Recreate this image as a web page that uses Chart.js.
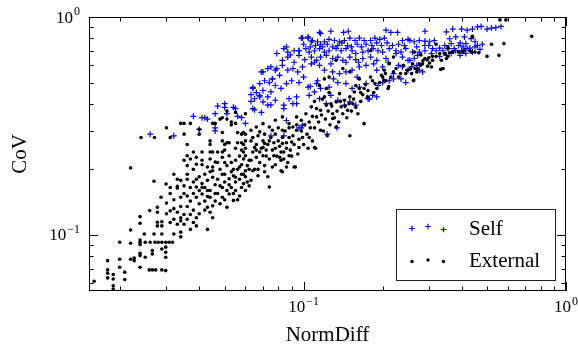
<!DOCTYPE html>
<html>
<head>
<meta charset="utf-8">
<script src="https://cdn.jsdelivr.net/npm/chart.js@4.4.1/dist/chart.umd.min.js"></script>
<style>
  html, body { margin: 0; padding: 0; background: #fff; }
  #wrap { width: 578px; height: 349px; }
</style>
</head>
<body>
<div id="wrap"><canvas id="c" width="578" height="349"></canvas></div>
<script>
// [NormDiff, CoV]
const selfPoints = [
  [0.026,0.29],[0.032,0.285],[0.038,0.35],[0.040,0.305],[0.041,0.345],[0.042,0.345],[0.043,0.34],[0.046,0.31],
  [0.046,0.30],[0.046,0.36],[0.047,0.39],[0.050,0.40],[0.050,0.385],[0.051,0.36],[0.054,0.385],[0.055,0.38],
  [0.058,0.345],[0.060,0.325],[0.063,0.44],
  [0.098,0.31],[0.064,0.47],[0.070,0.46],[0.076,0.52],[0.069,0.56],[0.079,0.58],[0.086,0.73],[0.079,0.68],
  [0.089,0.67],[0.096,0.70],[0.099,0.80],[0.104,0.81],[0.116,0.84],[0.066,0.45],[0.068,0.43],[0.065,0.375],
  [0.063,0.41],[0.075,0.395],[0.084,0.38],[0.091,0.40],[0.094,0.43],[0.106,0.48],[0.113,0.51],[0.086,0.335],[0.056,0.35],
  [0.115,0.85],[0.127,0.86],[0.142,0.85],[0.148,0.86],[0.098,0.80],[0.104,0.80],[0.107,0.77],[0.108,0.78],
  [0.113,0.77],[0.116,0.75],[0.120,0.77],[0.125,0.79],[0.131,0.78],[0.137,0.77],[0.143,0.78],[0.150,0.80],
  [0.157,0.78],[0.163,0.80],[0.170,0.78],[0.180,0.78],[0.187,0.80],[0.195,0.79],[0.203,0.80],[0.206,0.87],
  [0.215,0.85],[0.228,0.85],[0.238,0.78],[0.250,0.79],
  [0.084,0.716],[0.087,0.69],[0.092,0.70],[0.096,0.70],[0.102,0.716],[0.105,0.69],[0.110,0.70],[0.115,0.716],
  [0.120,0.69],[0.125,0.70],[0.133,0.716],[0.139,0.70],[0.145,0.716],[0.153,0.70],[0.158,0.68],[0.168,0.69],
  [0.176,0.70],[0.184,0.716],[0.192,0.70],[0.200,0.69],[0.212,0.716],[0.225,0.70],[0.235,0.69],[0.245,0.716],
  [0.100,0.75],[0.106,0.73],[0.111,0.74],[0.118,0.73],[0.123,0.75],[0.129,0.73],[0.135,0.74],[0.140,0.76],
  [0.147,0.74],[0.152,0.73],[0.160,0.75],[0.166,0.73],[0.173,0.75],[0.182,0.74],[0.190,0.76],[0.198,0.74],
  [0.208,0.76],[0.218,0.74],[0.230,0.75],[0.242,0.74],
  [0.083,0.633],[0.087,0.655],[0.096,0.667],[0.101,0.637],[0.107,0.655],[0.112,0.633],[0.116,0.655],[0.122,0.667],
  [0.129,0.645],[0.135,0.655],[0.141,0.633],[0.150,0.655],[0.158,0.637],[0.168,0.645],[0.180,0.655],[0.190,0.633],
  [0.206,0.645],[0.225,0.68],[0.238,0.655],[0.250,0.633],
  [0.110,0.62],[0.127,0.61],[0.145,0.62],[0.162,0.62],[0.185,0.61],[0.210,0.62],[0.230,0.60],[0.092,0.62],
  [0.070,0.56],[0.073,0.58],[0.075,0.59],[0.078,0.57],[0.081,0.54],[0.083,0.60],[0.087,0.57],[0.091,0.58],
  [0.095,0.56],[0.099,0.59],[0.107,0.61],[0.115,0.60],[0.120,0.57],[0.129,0.56],[0.137,0.55],[0.145,0.56],
  [0.153,0.57],[0.163,0.59],[0.173,0.60],[0.190,0.57],[0.200,0.59],[0.220,0.55],[0.238,0.59],[0.250,0.57],
  [0.100,0.53],[0.130,0.52],[0.160,0.53],[0.220,0.52],
  [0.064,0.475],[0.068,0.495],[0.071,0.51],[0.074,0.50],[0.076,0.52],[0.078,0.485],[0.082,0.47],[0.086,0.495],
  [0.090,0.51],[0.096,0.50],[0.104,0.477],[0.112,0.495],[0.116,0.47],[0.125,0.477],[0.135,0.50],[0.145,0.495],
  [0.153,0.47],[0.163,0.477],[0.173,0.495],[0.192,0.485],[0.200,0.50],[0.212,0.51],[0.235,0.52],[0.245,0.50],
  [0.065,0.422],[0.068,0.437],[0.070,0.408],[0.073,0.43],[0.075,0.453],[0.078,0.415],[0.084,0.394],[0.088,0.422],
  [0.094,0.40],[0.105,0.437],[0.110,0.453],[0.115,0.422],[0.122,0.40],[0.127,0.437],[0.135,0.415],[0.143,0.394],
  [0.150,0.408],[0.158,0.394],[0.176,0.422],[0.190,0.43],
  [0.064,0.38],[0.069,0.365],[0.073,0.394],[0.096,0.31],[0.099,0.318],[0.075,0.285],[0.084,0.285],[0.134,0.31],
  [0.123,0.29],[0.178,0.42],[0.183,0.437],
  [0.42,0.87],[0.44,0.88],[0.46,0.90],[0.475,0.905],[0.50,0.88],[0.52,0.89],[0.54,0.893],[0.565,0.905],
  [0.37,0.88],[0.40,0.88],[0.35,0.855],[0.29,0.86],
  [0.254,0.78],[0.264,0.77],[0.276,0.78],[0.29,0.775],[0.302,0.77],[0.315,0.78],[0.27,0.73],[0.29,0.74],
  [0.31,0.716],[0.26,0.69],[0.276,0.69],[0.29,0.70],[0.307,0.68],[0.254,0.633],[0.264,0.645],[0.258,0.59],
  [0.27,0.60],[0.276,0.57],[0.284,0.56],[0.272,0.667],
  [0.36,0.795],[0.38,0.81],[0.41,0.81],[0.435,0.795],[0.345,0.74],[0.365,0.755],[0.395,0.76],[0.415,0.755],
  [0.45,0.77],[0.34,0.70],[0.355,0.716],[0.375,0.716],[0.40,0.70],[0.42,0.716],[0.45,0.73],[0.35,0.667],
  [0.365,0.68],[0.395,0.667],[0.415,0.68],[0.44,0.69],[0.405,0.73],
  [0.32,0.70],[0.33,0.72],[0.30,0.74],[0.38,0.70],[0.43,0.72],[0.46,0.74],[0.47,0.71],[0.48,0.75],
  [0.33,0.66],[0.39,0.74]
];

const externalPoints = [
  [0.0159,0.0613],[0.0188,0.0585],[0.0188,0.0565],[0.0179,0.0762],[0.0179,0.0691],[0.0179,0.0667],[0.0179,0.0635],
  [0.0188,0.0658],[0.0188,0.0628],[0.0199,0.0926],[0.0199,0.0774],[0.0199,0.0711],[0.0208,0.0675],[0.0208,0.0624],
  [0.0219,0.203],[0.0219,0.1054],[0.0219,0.0916],[0.0219,0.0774],[0.0226,0.0784],[0.0226,0.0762],[0.0238,0.1213],
  [0.0238,0.1132],[0.0238,0.0948],[0.0238,0.0926],[0.0238,0.0903],[0.0238,0.0824],[0.0238,0.0804],[0.0238,0.0711],
  [0.0247,0.101],[0.0249,0.0926],[0.026,0.0926],[0.0271,0.0926],[0.0249,0.079],[0.0258,0.0691],[0.0265,0.0691],
  [0.0273,0.0691],[0.0288,0.0691],[0.0259,0.1293],[0.0265,0.0847],[0.0265,0.0818],[0.0269,0.1763],[0.0269,0.101],
  [0.0277,0.134],[0.0277,0.127],[0.0277,0.1144],[0.0277,0.110],[0.0279,0.0926],[0.0286,0.149],[0.0288,0.115],
  [0.0288,0.110],[0.0288,0.101],[0.0288,0.0926],[0.0288,0.0862],[0.0299,0.1714],[0.0298,0.0926],[0.0298,0.0879],
  [0.0298,0.0833],[0.0298,0.079],[0.0298,0.0686],[0.0307,0.0926],[0.0316,0.0926],
  [0.033,0.167],[0.033,0.164],[0.031,0.155],[0.034,0.149],[0.034,0.178],[0.035,0.168],[0.036,0.18],[0.036,0.19],
  [0.035,0.22],[0.036,0.208],[0.038,0.20],[0.039,0.211],[0.037,0.223],
  [0.030,0.14],[0.031,0.165],[0.032,0.145],[0.033,0.18],[0.034,0.135],[0.035,0.155],[0.036,0.135],[0.037,0.165],
  [0.038,0.13],[0.038,0.155],[0.039,0.18],[0.040,0.125],[0.041,0.165],[0.042,0.13],[0.043,0.16],[0.045,0.12],
  [0.032,0.19],[0.030,0.125],
  [0.031,0.129],[0.032,0.132],[0.033,0.127],[0.034,0.12],[0.032,0.118],[0.031,0.114],[0.033,0.112],[0.034,0.116],
  [0.035,0.112],[0.036,0.118],[0.038,0.114],[0.039,0.11],[0.037,0.106],[0.034,0.103],[0.032,0.101],[0.034,0.098],
  [0.035,0.124],[0.037,0.124],[0.039,0.12],
  [0.036,0.151],[0.037,0.143],[0.039,0.149],[0.040,0.139],[0.042,0.143],[0.041,0.154],[0.043,0.134],[0.044,0.127],
  [0.045,0.136],[0.046,0.143],[0.044,0.149],[0.043,0.106],
  [0.039,0.166],[0.041,0.172],[0.043,0.178],[0.045,0.184],[0.048,0.168],[0.050,0.175],[0.052,0.181],[0.055,0.184],
  [0.058,0.19],[0.060,0.197],[0.059,0.172],[0.055,0.16],[0.052,0.154],[0.049,0.149],[0.048,0.139],[0.051,0.134],
  [0.054,0.144],[0.057,0.151],[0.060,0.16],[0.062,0.168],
  [0.040,0.16],[0.042,0.165],[0.044,0.16],[0.046,0.17],[0.047,0.155],[0.047,0.18],[0.049,0.165],[0.050,0.19],
  [0.051,0.16],[0.052,0.17],[0.053,0.195],[0.053,0.165],[0.055,0.175],[0.056,0.20],[0.056,0.145],[0.057,0.18],
  [0.058,0.21],[0.058,0.165],[0.060,0.185],[0.061,0.175],[0.062,0.20],[0.062,0.22],[0.045,0.205],[0.047,0.215],
  [0.042,0.19],[0.044,0.195],[0.040,0.185],[0.038,0.175],[0.041,0.21],[0.050,0.215],[0.053,0.215],[0.057,0.23],
  [0.046,0.155],[0.043,0.15],[0.050,0.145],[0.054,0.155],
  [0.036,0.231],[0.039,0.227],[0.041,0.22],[0.044,0.223],[0.046,0.216],[0.049,0.227],[0.052,0.231],[0.055,0.22],
  [0.059,0.223],[0.060,0.231],[0.043,0.205],[0.045,0.197],[0.048,0.20],[0.051,0.208],[0.054,0.20],[0.057,0.205],
  [0.061,0.208],[0.049,0.19],[0.054,0.187],[0.059,0.19],
  [0.063,0.22],[0.066,0.227],[0.070,0.231],[0.074,0.223],[0.077,0.231],[0.081,0.227],[0.084,0.223],[0.088,0.231],
  [0.064,0.197],[0.067,0.20],[0.071,0.208],[0.076,0.205],[0.082,0.197],[0.093,0.205],[0.073,0.185],[0.067,0.187],
  [0.063,0.178],[0.074,0.166],[0.083,0.195],[0.092,0.205],[0.082,0.22],
  [0.064,0.24],[0.066,0.26],[0.067,0.285],[0.069,0.25],[0.070,0.27],[0.071,0.29],[0.072,0.23],[0.073,0.26],
  [0.075,0.28],[0.076,0.245],[0.077,0.265],[0.078,0.29],[0.079,0.23],[0.080,0.31],[0.081,0.255],[0.083,0.28],
  [0.084,0.24],[0.085,0.30],[0.086,0.265],[0.087,0.215],[0.088,0.31],[0.089,0.245],[0.091,0.285],[0.092,0.26],
  [0.094,0.32],[0.095,0.235],[0.096,0.275],[0.098,0.30],[0.100,0.26],[0.101,0.32],[0.103,0.29],[0.104,0.25],
  [0.106,0.31],[0.108,0.27],[0.065,0.20],[0.068,0.215],[0.071,0.195],[0.078,0.21],[0.086,0.205],[0.090,0.23],
  [0.024,0.28],[0.027,0.28],[0.030,0.31],[0.031,0.28],[0.034,0.325],[0.035,0.325],[0.037,0.325],[0.035,0.29],
  [0.036,0.26],[0.040,0.29],[0.040,0.305],[0.038,0.24],[0.041,0.24],[0.044,0.27],[0.044,0.26],[0.045,0.325],
  [0.046,0.325],[0.048,0.34],[0.049,0.295],[0.049,0.345],[0.051,0.34],[0.051,0.37],[0.055,0.365],[0.049,0.27],
  [0.050,0.26],[0.051,0.265],[0.052,0.265],[0.044,0.24],[0.045,0.24],[0.047,0.24],[0.049,0.24],[0.050,0.245],
  [0.053,0.33],[0.053,0.32],[0.055,0.325],[0.056,0.295],[0.058,0.29],[0.059,0.295],[0.060,0.29],[0.056,0.265],
  [0.058,0.265],[0.059,0.26],[0.060,0.27],[0.055,0.25],[0.058,0.245],[0.060,0.25],[0.059,0.24],[0.060,0.36],
  [0.18,0.70],[0.22,0.655],[0.212,0.61],[0.203,0.57],[0.198,0.54],[0.206,0.51],[0.21,0.47],[0.18,0.53],
  [0.187,0.495],[0.163,0.52],[0.17,0.47],[0.158,0.485],[0.15,0.56],[0.141,0.58],[0.133,0.633],[0.125,0.53],
  [0.12,0.52],[0.115,0.485],[0.122,0.47],
  [0.165,0.45],[0.172,0.49],[0.176,0.46],[0.183,0.51],[0.19,0.47],[0.195,0.50],[0.20,0.53],[0.205,0.55],
  [0.215,0.53],[0.225,0.58],[0.23,0.53],[0.24,0.60],[0.245,0.55],[0.255,0.58],[0.26,0.61],[0.285,0.63],
  [0.30,0.65],[0.32,0.66],[0.175,0.43],[0.185,0.45],
  [0.137,0.445],[0.143,0.415],[0.15,0.43],[0.156,0.453],[0.163,0.47],[0.154,0.40],[0.147,0.373],[0.139,0.387],
  [0.133,0.408],[0.127,0.40],[0.129,0.36],[0.122,0.394],[0.116,0.373],[0.112,0.348],[0.107,0.387],[0.102,0.36],
  [0.098,0.336],[0.094,0.348],[0.088,0.324],[0.083,0.348],[0.078,0.336],[0.074,0.313],[0.070,0.324],[0.066,0.313],
  [0.063,0.302],[0.129,0.342],[0.12,0.43],
  [0.105,0.33],[0.108,0.35],[0.110,0.31],[0.112,0.38],[0.114,0.33],[0.117,0.355],[0.119,0.30],[0.121,0.34],
  [0.124,0.37],[0.126,0.32],[0.128,0.39],[0.131,0.345],[0.134,0.37],[0.136,0.33],[0.138,0.41],[0.141,0.36],
  [0.144,0.39],[0.146,0.345],[0.149,0.40],[0.152,0.37],[0.155,0.42],[0.158,0.385],[0.161,0.36],[0.165,0.41],
  [0.168,0.44],[0.118,0.42],[0.125,0.45],[0.110,0.41],
  [0.17,0.324],[0.15,0.285],[0.133,0.313],[0.123,0.285],[0.116,0.302],[0.11,0.252],[0.105,0.28],[0.096,0.252],
  [0.094,0.302],[0.088,0.28],[0.083,0.263],[0.078,0.25],[0.074,0.27],[0.070,0.252],[0.066,0.245],[0.064,0.28],
  [0.076,0.302],[0.068,0.297],[0.083,0.302],[0.099,0.28],[0.091,0.313],[0.111,0.25],
  [0.063,0.27],[0.065,0.252],[0.068,0.24],[0.071,0.263],[0.072,0.245],[0.080,0.27],[0.082,0.24],[0.086,0.25],[0.090,0.267],
  [0.202,0.514],[0.211,0.48],[0.22,0.56],[0.234,0.55],[0.248,0.57],[0.263,0.514],[0.266,0.58],[0.279,0.60],
  [0.296,0.635],[0.31,0.66],[0.33,0.68],[0.34,0.58],[0.355,0.66],[0.37,0.69],[0.39,0.69],[0.41,0.705],
  [0.44,0.81],[0.435,0.69],
  [0.74,0.815],[0.56,0.97],[0.59,0.97],[0.52,0.75],[0.58,0.755],[0.555,0.667],[0.50,0.66],[0.465,0.685],
  [0.45,0.69],[0.44,0.815],[0.43,0.70],[0.405,0.69],[0.39,0.695],[0.37,0.69],[0.36,0.685],[0.355,0.716],
  [0.345,0.68],[0.35,0.645],[0.335,0.633],[0.32,0.75],[0.333,0.575],[0.31,0.633],[0.302,0.615],[0.297,0.595],
  [0.307,0.59],[0.29,0.645],[0.284,0.61],[0.276,0.61],[0.272,0.58],[0.27,0.56],[0.258,0.55],[0.262,0.51],
  [0.264,0.69],[0.28,0.67],[0.355,0.73]
];

const seriesNames = ["Self", "External"];
const xMajorTicks = [0.1, 1];
const xMinorTicks = [0.02, 0.03, 0.04, 0.05, 0.06, 0.07, 0.08, 0.09, 0.2, 0.3, 0.4, 0.5, 0.6, 0.7, 0.8, 0.9];
const yMajorTicks = [0.1, 1];
const yMinorTicks = [0.06, 0.07, 0.08, 0.09, 0.2, 0.3, 0.4, 0.5, 0.6, 0.7, 0.8, 0.9];
const xTickLabels = [["10", "\u22121"], ["10", "0"]];
const yTickLabels = [["10", "\u22121"], ["10", "0"]];

const SERIF = '"Liberation Serif", "DejaVu Serif", serif';

function toXY(pts) {
  return pts.map(p => ({ x: p[0], y: p[1] }));
}

// draws 10^k; align: 'center' or 'right'
function drawPower(ctx, parts, x, y, align) {
  ctx.font = "17px " + SERIF;
  const wb = ctx.measureText(parts[0]).width;
  ctx.font = "12px " + SERIF;
  const we = ctx.measureText(parts[1]).width;
  const total = wb + we + 1;
  let x0 = align === "right" ? x - total : x - total / 2;
  ctx.textAlign = "left";
  ctx.textBaseline = "alphabetic";
  ctx.font = "17px " + SERIF;
  ctx.fillText(parts[0], x0, y);
  ctx.font = "12px " + SERIF;
  ctx.fillText(parts[1], x0 + wb + 1, y - 7.5);
}

const axesPlugin = {
  id: "axesPlugin",
  afterDatasetsDraw(chart) {
    const { ctx, chartArea: a, scales } = chart;
    const xs = scales.x, ys = scales.y;
    const L = a.left, R = a.right, T = a.top, B = a.bottom;
    ctx.save();
    ctx.fillStyle = "#000";
    ctx.strokeStyle = "#000";
    ctx.lineWidth = 1;
    ctx.strokeRect(L + 0.5, T + 0.5, R - L - 1, B - T - 1);

    ctx.beginPath();
    const xt = (v, len) => {
      const px = Math.round(xs.getPixelForValue(v)) + 0.5;
      ctx.moveTo(px, B); ctx.lineTo(px, B - len);
      ctx.moveTo(px, T); ctx.lineTo(px, T + len);
    };
    const yt = (v, len) => {
      const py = Math.round(ys.getPixelForValue(v)) + 0.5;
      ctx.moveTo(L, py); ctx.lineTo(L + len, py);
      ctx.moveTo(R, py); ctx.lineTo(R - len, py);
    };
    xMinorTicks.forEach(v => xt(v, 4.5));
    xMajorTicks.forEach(v => xt(v, 9));
    yMinorTicks.forEach(v => yt(v, 4.5));
    yMajorTicks.forEach(v => yt(v, 9));
    ctx.stroke();

    xMajorTicks.forEach((v, i) => {
      drawPower(ctx, xTickLabels[i], xs.getPixelForValue(v), B + 21, "center");
    });
    yMajorTicks.forEach((v, i) => {
      drawPower(ctx, yTickLabels[i], L - 9, ys.getPixelForValue(v) + 5.5, "right");
    });

    // axis titles
    ctx.font = "21px " + SERIF;
    ctx.textAlign = "center";
    ctx.textBaseline = "alphabetic";
    ctx.fillText("NormDiff", (L + R) / 2, 341);
    ctx.save();
    ctx.translate(26, (T + B) / 2);
    ctx.rotate(-Math.PI / 2);
    ctx.fillText("CoV", 0, 0);
    ctx.restore();

    // legend
    const bx = 396, by = 209, bw = 159, bh = 71;
    ctx.fillStyle = "#fff";
    ctx.fillRect(bx, by, bw, bh);
    ctx.strokeStyle = "#222";
    ctx.strokeRect(bx + 0.5, by + 0.5, bw, bh);
    const mx = [412, 428, 443.5];
    const selfOff = [0.5, -1.5, 1.5];
    const extOff = [0.5, -1, 0.5];
    ctx.strokeStyle = "#0000ff";
    ctx.lineWidth = 1.2;
    ctx.beginPath();
    mx.forEach((x, i) => {
      const y = 228 + selfOff[i];
      ctx.moveTo(x - 2.8, y); ctx.lineTo(x + 2.8, y);
      ctx.moveTo(x, y - 2.8); ctx.lineTo(x, y + 2.8);
    });
    ctx.stroke();
    ctx.fillStyle = "#000";
    mx.forEach((x, i) => {
      ctx.beginPath();
      ctx.arc(x, 261 + extOff[i], 1.7, 0, Math.PI * 2);
      ctx.fill();
    });
    ctx.font = "21px " + SERIF;
    ctx.textAlign = "left";
    ctx.fillText(seriesNames[0], 469, 235);
    ctx.fillText(seriesNames[1], 469, 267);
    ctx.restore();
  }
};

new Chart(document.getElementById("c"), {
  type: "scatter",
  data: {
    datasets: [
      {
        label: seriesNames[1],
        data: toXY(externalPoints),
        pointStyle: "circle",
        pointRadius: 1.8,
        pointBackgroundColor: "#000",
        pointBorderWidth: 0
      },
      {
        label: seriesNames[0],
        data: toXY(selfPoints),
        pointStyle: "cross",
        pointRadius: 3,
        pointBorderColor: "#0000ff",
        pointBorderWidth: 1.2
      }
    ]
  },
  options: {
    responsive: false,
    animation: false,
    events: [],
    layout: { padding: { left: 89, top: 17, right: 12, bottom: 58 } },
    scales: {
      x: { type: "logarithmic", min: 0.0152, max: 1, display: false },
      y: { type: "logarithmic", min: 0.0553, max: 1, display: false }
    },
    plugins: {
      legend: { display: false },
      tooltip: { enabled: false }
    }
  },
  plugins: [axesPlugin]
});
</script>
</body>
</html>
